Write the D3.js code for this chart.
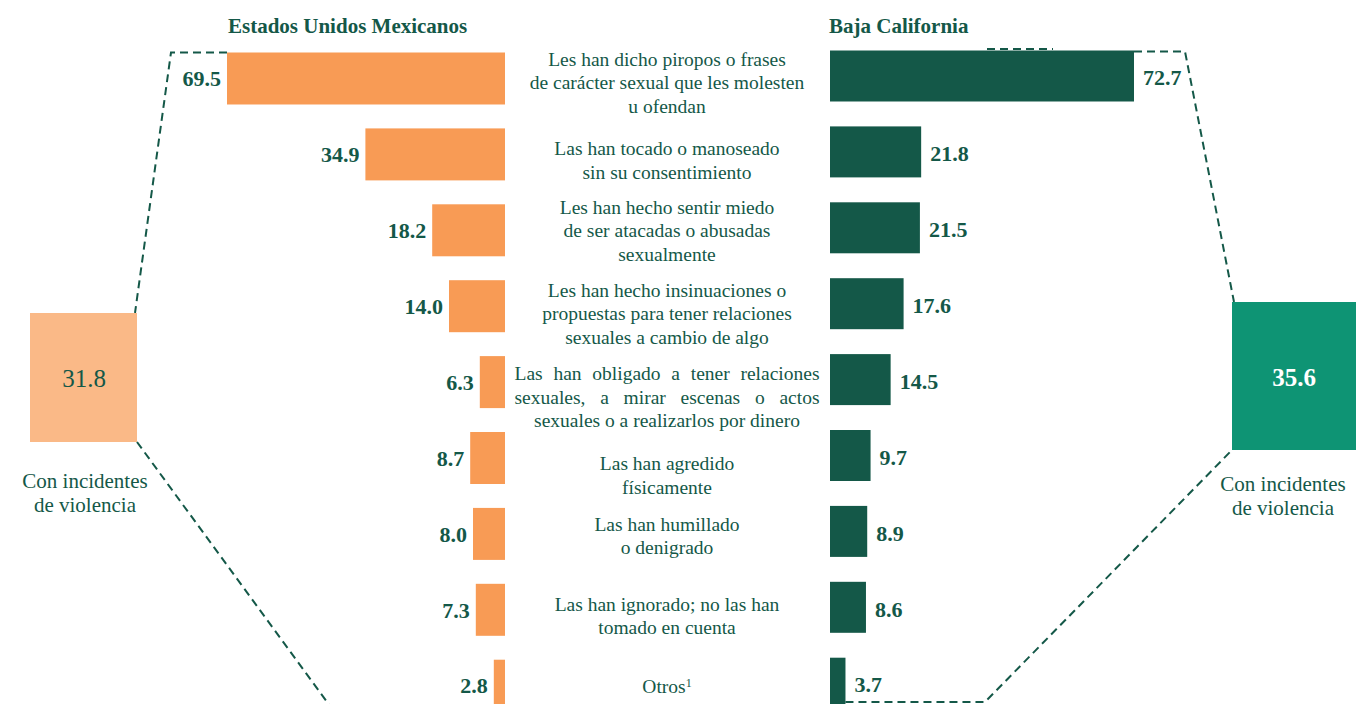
<!DOCTYPE html>
<html>
<head>
<meta charset="utf-8">
<script src="https://cdn.jsdelivr.net/npm/d3@7"></script>
<style>
  svg text, svg tspan { font-family: "Times New Roman", "Liberation Serif", Tinos, serif !important; }
</style>
</head>
<body style="margin:0; background:#fff">
<script>
// categorias (lineas de cada etiqueta)
var categories = [
  ["Les han dicho piropos o frases", "de carácter sexual que les molesten", "u ofendan"],
  ["Las han tocado o manoseado", "sin su consentimiento"],
  ["Les han hecho sentir miedo", "de ser atacadas o abusadas", "sexualmente"],
  ["Les han hecho insinuaciones o", "propuestas para tener relaciones", "sexuales a cambio de algo"],
  ["Las han obligado a tener relaciones", "sexuales, a mirar escenas o actos", "sexuales o a realizarlos por dinero"],
  ["Las han agredido", "físicamente"],
  ["Las han humillado", "o denigrado"],
  ["Las han ignorado; no las han", "tomado en cuenta"],
  ["Otros"]
];
var nacional = [69.5, 34.9, 18.2, 14.0, 6.3, 8.7, 8.0, 7.3, 2.8];
var estatal = [72.7, 21.8, 21.5, 17.6, 14.5, 9.7, 8.9, 8.6, 3.7];
var titles = ["Estados Unidos Mexicanos", "Baja California"];
var totals = [31.8, 35.6];
var totalLabel = ["Con incidentes", "de violencia"];

// Width and height
let w = 1356;
let h = 704;
let green = "#145848";
let orange = "#f89b55";
let serif = "Times New Roman";

// small vertical nudges of the middle labels
let labelNudge = [4, 6, 0, 7, 15, 17, 2, 6, 0];

let svg = d3.select("body")
            .append("svg")
            .attr("width", w)
            .attr("height", h)
            .attr("font-family", serif);

let idx = d3.range(categories.length);

let y = d3.scaleBand()
          .domain(idx)
          .range([52.5, 52.5 + 8 * 75.9 + 52])
          .paddingInner(0.315)
          .paddingOuter(0);

let xL = d3.scaleLinear().domain([0, 69.5]).range([505, 227]);
let xR = d3.scaleLinear().domain([0, 72.7]).range([830, 1134]);

//====dashed connector lines====//
let dash = svg.append("g")
  .attr("fill", "none")
  .attr("stroke", green)
  .attr("stroke-width", 2)
  .attr("stroke-dasharray", "8,5");

dash.append("polyline").attr("points", [[xL(69.5), y(0)], [171, y(0)], [135, 313]].join(" "));
dash.append("line").attr("x1", 137).attr("y1", 442).attr("x2", 330).attr("y2", 706);
dash.append("line").attr("x1", 987).attr("y1", 49).attr("x2", 1053).attr("y2", 49);
dash.append("polyline").attr("points", [[xR(72.7), y(0) - 1], [1185, y(0) - 1], [1234, 302]].join(" "));
dash.append("polyline").attr("points", [[xR(3.7), 702], [985, 702], [1232, 450]].join(" "));

//====titles====//
svg.append("text")
  .attr("x", 228).attr("y", 33)
  .attr("font-family", serif)
  .attr("font-size", "21px").attr("font-weight", "bold")
  .attr("fill", green)
  .text(titles[0]);
svg.append("text")
  .attr("x", 829).attr("y", 33)
  .attr("font-family", serif)
  .attr("font-size", "21px").attr("font-weight", "bold")
  .attr("fill", green)
  .text(titles[1]);

//====left bars====//
svg.selectAll("rect.nac")
   .data(nacional)
   .enter()
   .append("rect")
   .attr("class", "nac")
   .attr("x", function(d){ return xL(d); })
   .attr("y", function(d, i){ return y(i); })
   .attr("width", function(d){ return xL(0) - xL(d); })
   .attr("height", y.bandwidth())
   .attr("fill", orange);

svg.selectAll("text.nac")
  .data(nacional)
  .enter()
  .append("text")
  .attr("class", "nac")
  .text(function(d){ return d.toFixed(1); })
  .attr("x", function(d){ return xL(d) - 6; })
  .attr("y", function(d, i){ return y(i) + y.bandwidth() / 2; })
  .attr("dy", "0.35em")
  .attr("font-family", serif)
  .attr("font-size", "22px")
  .attr("font-weight", "bold")
  .attr("fill", green)
  .attr("text-anchor", "end");

//====right bars====//
svg.selectAll("rect.est")
   .data(estatal)
   .enter()
   .append("rect")
   .attr("class", "est")
   .attr("x", xR(0))
   .attr("y", function(d, i){ return y(i) - 2; })
   .attr("width", function(d){ return xR(d) - xR(0); })
   .attr("height", y.bandwidth() - 1)
   .attr("fill", green);

svg.selectAll("text.est")
  .data(estatal)
  .enter()
  .append("text")
  .attr("class", "est")
  .text(function(d){ return d.toFixed(1); })
  .attr("x", function(d){ return xR(d) + 9; })
  .attr("y", function(d, i){ return y(i) + y.bandwidth() / 2 - 1; })
  .attr("dy", "0.35em")
  .attr("font-family", serif)
  .attr("font-size", "22px")
  .attr("font-weight", "bold")
  .attr("fill", green);

//====middle labels====//
let lh = 23.5;
categories.forEach(function(lines, i){
  let cy = y(i) + y.bandwidth() / 2 + labelNudge[i];
  lines.forEach(function(s, j){
    let line = svg.append("text")
      .attr("font-family", serif)
      .attr("font-size", "19.5px")
      .attr("fill", green)
      .attr("text-anchor", "middle")
      .attr("x", 667)
      .attr("y", cy + (j - (lines.length - 1) / 2) * lh)
      .attr("dy", "0.35em")
      .text(s);
    // justified lines in the long label
    if (i === 4 && j < 2) {
      let len = line.node().getComputedTextLength();
      let gaps = s.split(" ").length - 1;
      line.attr("word-spacing", Math.max(0, (305 - len) / gaps));
    }
    if (i === categories.length - 1) {
      line.append("tspan").attr("dy", "-0.45em").attr("font-size", "12px").text("1");
    }
  });
});

//====total boxes====//
svg.append("rect")
  .attr("x", 30).attr("y", 313).attr("width", 107).attr("height", 129)
  .attr("fill", "#fab987");
svg.append("text")
  .attr("x", 84).attr("y", 378).attr("dy", "0.35em")
  .attr("text-anchor", "middle")
  .attr("font-family", serif)
  .attr("font-size", "25px")
  .attr("fill", green)
  .text(totals[0].toFixed(1));

svg.append("rect")
  .attr("x", 1232).attr("y", 302).attr("width", 124).attr("height", 148)
  .attr("fill", "#0e9474");
svg.append("text")
  .attr("x", 1294).attr("y", 377).attr("dy", "0.35em")
  .attr("text-anchor", "middle")
  .attr("font-family", serif)
  .attr("font-size", "25px")
  .attr("font-weight", "bold")
  .attr("fill", "white")
  .text(totals[1].toFixed(1));

[[85, 481], [1283, 484]].forEach(function(p){
  totalLabel.forEach(function(s, i){
    svg.append("text")
      .attr("text-anchor", "middle")
      .attr("font-family", serif)
      .attr("font-size", "21px")
      .attr("fill", green)
      .attr("x", p[0])
      .attr("y", p[1] + i * 24)
      .attr("dy", "0.35em")
      .text(s);
  });
});
</script>
</body>
</html>
